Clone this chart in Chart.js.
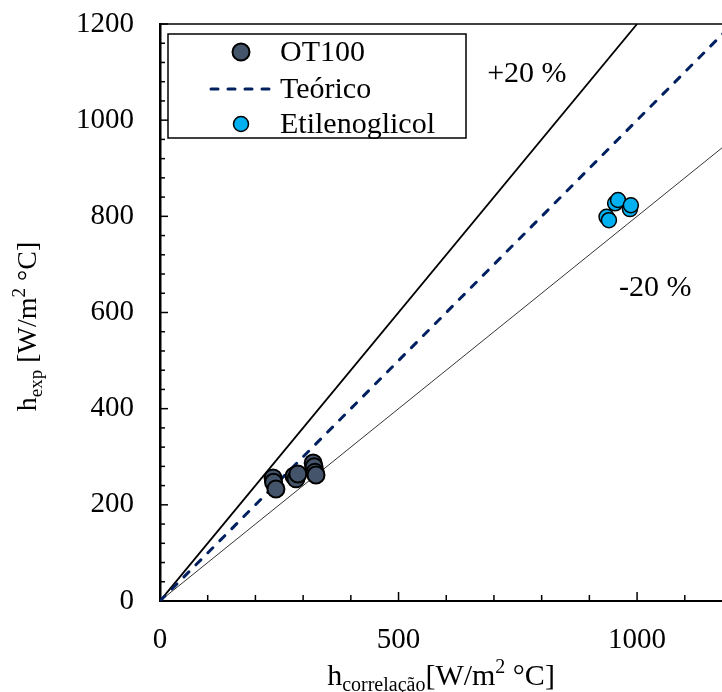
<!DOCTYPE html>
<html>
<head>
<meta charset="utf-8">
<script src="https://cdn.jsdelivr.net/npm/chart.js@4.4.1/dist/chart.umd.min.js"></script>
<style>
  html, body { margin: 0; padding: 0; background: #fff; }
  #wrap { width: 722px; height: 692px; }
</style>
</head>
<body>
<div id="wrap"><canvas id="chart" width="722" height="692"></canvas></div>
<script>
// values
const ot100X = [237, 238, 243, 281, 285, 289, 321, 323, 325, 327];
const ot100Y = [256, 247, 233, 260, 254, 264, 287, 279, 268, 262];
const etilX = [936, 941, 954, 960, 985, 987];
const etilY = [799, 792, 827, 834, 815, 823];

// reference lines (end points)
const teoricoX = [0, 1200];
const teoricoY = [0, 1200];
const plus20X = [0, 1000];
const plus20Y = [0, 1200];
const minus20X = [0, 1200];
const minus20Y = [0, 960];

const xTickLabels = [0, 500, 1000];
const yTickLabels = [0, 200, 400, 600, 800, 1000, 1200];

const noteText = ['+20 %', '-20 %'];
const noteX = [769, 1038];
const noteY = [1096, 651];

const FONT = "'Liberation Serif', 'Times New Roman', serif";

function pts(xs, ys) {
  return xs.map((x, i) => ({ x: x, y: ys[i] }));
}

// ticks inward, top border, legend box, notes and axis titles
const extras = {
  id: 'extras',
  afterDraw(chart) {
    const ctx = chart.ctx;
    const a = chart.chartArea;
    const xs = chart.scales.x, ys = chart.scales.y;
    ctx.save();
    ctx.strokeStyle = '#000';

    // top border
    ctx.lineWidth = 1.5;
    ctx.beginPath();
    ctx.moveTo(a.left, a.top);
    ctx.lineTo(a.right, a.top);
    ctx.stroke();

    // minor / major ticks pointing into the plot
    ctx.lineWidth = 1.5;
    for (let v = 100; v < xs.max; v += 100) {
      const px = xs.getPixelForValue(v);
      const len = v % 500 === 0 ? 9 : 6;
      ctx.beginPath();
      ctx.moveTo(px, a.bottom);
      ctx.lineTo(px, a.bottom - len);
      ctx.stroke();
    }
    for (let v = 40; v <= ys.max; v += 40) {
      const py = ys.getPixelForValue(v);
      const len = v % 200 === 0 ? 8 : 5;
      ctx.beginPath();
      ctx.moveTo(a.left, py);
      ctx.lineTo(a.left + len, py);
      ctx.stroke();
    }

    // legend
    const ds = chart.data.datasets;
    const lx = a.left + 8, ly = a.top + 10;
    ctx.fillStyle = '#fff';
    ctx.fillRect(lx, ly, 298, 104);
    ctx.lineWidth = 1.5;
    ctx.strokeRect(lx, ly, 298, 104);
    const rows = [ly + 18, ly + 55, ly + 90];
    ctx.font = '30px ' + FONT;
    ctx.textBaseline = 'middle';
    ctx.textAlign = 'left';
    [0, 1, 2].forEach((i, r) => {
      const d = ds[i];
      const cy = rows[r];
      if (d.showLine) {
        ctx.setLineDash(d.borderDash);
        ctx.lineCap = d.borderCapStyle;
        ctx.strokeStyle = d.borderColor;
        ctx.lineWidth = d.borderWidth;
        ctx.beginPath();
        ctx.moveTo(lx + 43, cy);
        ctx.lineTo(lx + 101, cy);
        ctx.stroke();
        ctx.setLineDash([]);
        ctx.lineCap = 'butt';
      } else {
        ctx.beginPath();
        ctx.arc(lx + 73, cy, d.pointRadius, 0, Math.PI * 2);
        ctx.fillStyle = d.backgroundColor;
        ctx.fill();
        ctx.strokeStyle = d.borderColor;
        ctx.lineWidth = d.borderWidth;
        ctx.stroke();
      }
      ctx.fillStyle = '#000';
      ctx.fillText(d.label, lx + 112, cy + 1);
    });

    // +20 % / -20 % notes
    ctx.textAlign = 'center';
    noteText.forEach((t, i) => {
      ctx.fillText(t, xs.getPixelForValue(noteX[i]), ys.getPixelForValue(noteY[i]));
    });

    // axis titles with sub/superscripts
    function drawRich(parts, cx, baseY) {
      ctx.textAlign = 'left';
      ctx.textBaseline = 'alphabetic';
      let w = 0;
      parts.forEach(p => { ctx.font = p[1] + 'px ' + FONT; w += ctx.measureText(p[0]).width; });
      let x = cx - w / 2;
      parts.forEach(p => {
        ctx.font = p[1] + 'px ' + FONT;
        ctx.fillText(p[0], x, baseY + p[2]);
        x += ctx.measureText(p[0]).width;
      });
    }
    ctx.fillStyle = '#000';
    drawRich([['h', 30, 0], ['correlação', 20, 6], ['[W/m', 30, 0], ['2', 20, -12], [' °C]', 30, 0]],
      (a.left + a.right) / 2, 685);

    ctx.save();
    ctx.translate(36, (a.top + a.bottom) / 2 + 14);
    ctx.rotate(-Math.PI / 2);
    drawRich([['h', 28, 0], ['exp', 19, 6], [' [W/m', 28, 0], ['2', 19, -11], [' °C]', 28, 0]], 0, 0);
    ctx.restore();

    ctx.restore();
  }
};

const chart = new Chart(document.getElementById('chart'), {
  type: 'scatter',
  data: {
    datasets: [
      {
        label: 'OT100',
        data: pts(ot100X, ot100Y),
        backgroundColor: '#44546A',
        borderColor: '#000',
        borderWidth: 2,
        pointRadius: 8.5,
        order: 0
      },
      {
        label: 'Teórico',
        type: 'line',
        showLine: true,
        data: pts(teoricoX, teoricoY),
        borderColor: '#002060',
        borderDash: [7, 10],
        borderCapStyle: 'round',
        borderWidth: 3,
        pointRadius: 0,
        fill: false,
        order: 2
      },
      {
        label: 'Etilenoglicol',
        data: pts(etilX, etilY),
        backgroundColor: '#00B0F0',
        borderColor: '#000',
        borderWidth: 1.5,
        pointRadius: 7.5,
        order: 1
      },
      {
        label: '+20 %',
        type: 'line',
        data: pts(plus20X, plus20Y),
        borderColor: '#000',
        borderWidth: 1.8,
        pointRadius: 0,
        fill: false,
        order: 3
      },
      {
        label: '-20 %',
        type: 'line',
        data: pts(minus20X, minus20Y),
        borderColor: '#000',
        borderWidth: 0.8,
        pointRadius: 0,
        fill: false,
        order: 3
      }
    ]
  },
  options: {
    responsive: false,
    animation: false,
    devicePixelRatio: 1,
    layout: { autoPadding: false, padding: { top: 24, right: 0, bottom: 0, left: 0 } },
    plugins: {
      legend: { display: false },
      tooltip: { enabled: false }
    },
    scales: {
      x: {
        type: 'linear',
        min: 0,
        max: 1178,
        grid: { display: false, drawTicks: false },
        border: { display: true, color: '#000', width: 2 },
        ticks: {
          stepSize: 100,
          autoSkip: false,
          maxRotation: 0,
          minRotation: 0,
          padding: 22,
          color: '#000',
          font: { family: FONT, size: 29 },
          callback: v => xTickLabels.includes(v) ? String(v) : ''
        },
        afterFit: s => { s.height = 91; s.paddingLeft = 0; s.paddingRight = 0; }
      },
      y: {
        type: 'linear',
        min: 0,
        max: 1200,
        grid: { display: false, drawTicks: false },
        border: { display: true, color: '#000', width: 2.5 },
        ticks: {
          stepSize: 200,
          padding: 26,
          color: '#000',
          font: { family: FONT, size: 29 },
          callback: v => yTickLabels.includes(v) ? String(v) : ''
        },
        afterFit: s => { s.width = 160; s.paddingTop = 0; s.paddingBottom = 0; }
      }
    }
  },
  plugins: [extras]
});
</script>
</body>
</html>
